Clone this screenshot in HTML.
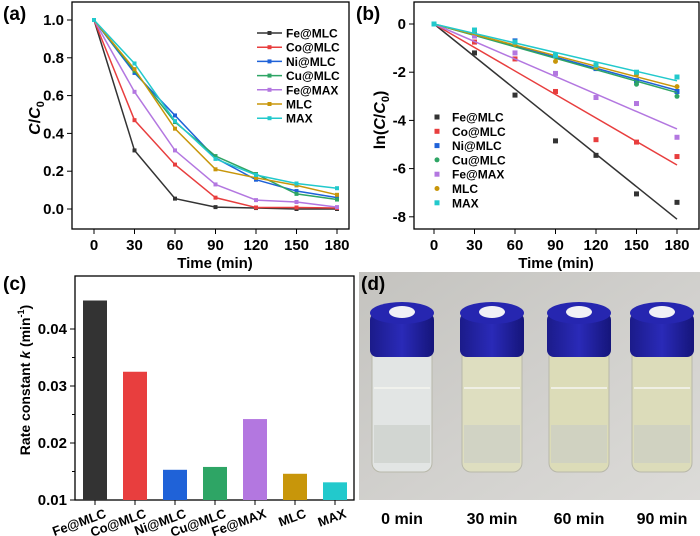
<!DOCTYPE html>
<html><head><meta charset="utf-8"><style>
body{margin:0;background:#fff;}
svg{display:block;font-family:"Liberation Sans",Arial,sans-serif;font-weight:bold;}
</style></head><body>
<svg id="fig" width="700" height="536" viewBox="0 0 700 536" xmlns="http://www.w3.org/2000/svg">
<defs>
<linearGradient id="bg" x1="0" y1="0" x2="1" y2="1"><stop offset="0" stop-color="#c4c3bf"/><stop offset="0.6" stop-color="#d3d2cf"/><stop offset="1" stop-color="#dcdbd8"/></linearGradient>
<linearGradient id="capg" x1="0" y1="0" x2="1" y2="0"><stop offset="0" stop-color="#1b1b8a"/><stop offset="0.5" stop-color="#2a2ab8"/><stop offset="1" stop-color="#15157a"/></linearGradient>
</defs>
<g id="pa"></g>
<g id="pb"></g>
<g id="pc"></g>
<g id="pd"></g>
</svg>
<script>
const NS="http://www.w3.org/2000/svg";
const names=["Fe@MLC","Co@MLC","Ni@MLC","Cu@MLC","Fe@MAX","MLC","MAX"];
const colors=["#333333","#e83e3e","#1f62d8","#2ea565","#b377e0","#c8960a","#22c9cc"];
const times=[0,30,60,90,120,150,180];
const cFe=[1,0.31,0.055,0.01,0.005,0.0,0.0];
const cCo=[1,0.47,0.235,0.06,0.008,0.008,0.005];
const cNi=[1,0.72,0.495,0.27,0.155,0.095,0.06];
const cCu=[1,0.73,0.46,0.28,0.185,0.08,0.05];
const cFeMAX=[1,0.62,0.31,0.13,0.047,0.037,0.01];
const cMLC=[1,0.74,0.425,0.21,0.165,0.125,0.075];
const cMAX=[1,0.77,0.465,0.265,0.18,0.135,0.11];
const lnFe=[0,-1.2,-2.95,-4.85,-5.45,-7.05,-7.4];
const lnCo=[0,-0.75,-1.45,-2.8,-4.8,-4.9,-5.5];
const lnNi=[0,-0.3,-0.7,-1.3,-1.85,-2.35,-2.8];
const lnCu=[0,-0.3,-0.75,-1.3,-1.7,-2.5,-3.0];
const lnFeMAX=[0,-0.5,-1.2,-2.05,-3.05,-3.3,-4.7];
const lnMLC=[0,-0.3,-0.85,-1.55,-1.8,-2.1,-2.6];
const lnMAX=[0,-0.25,-0.75,-1.3,-1.7,-2.0,-2.2];
const kValues=[0.045,0.0325,0.0153,0.0158,0.0242,0.0146,0.0131];
const xTicks=[0,30,60,90,120,150,180];
const aYTicks=[0,0.2,0.4,0.6,0.8,1.0];
const bYTicks=[0,-2,-4,-6,-8];
const cYTicks=[0.01,0.02,0.03,0.04];
const photoLabels=["0 min","30 min","60 min","90 min"];
const cSeries=[cFe,cCo,cNi,cCu,cFeMAX,cMLC,cMAX];
const lnSeries=[lnFe,lnCo,lnNi,lnCu,lnFeMAX,lnMLC,lnMAX];

function el(tag,attrs,parent,text){const e=document.createElementNS(NS,tag);for(const k in attrs)e.setAttribute(k,attrs[k]);if(text!==undefined)e.textContent=text;parent.appendChild(e);return e;}

// ---------- Panel A ----------
const pa=document.getElementById('pa');
const ax=t=>94+(t/180)*243, ay=v=>209-v*189;
let r=el('rect',{x:72,y:2,width:277,height:227,fill:'none',stroke:'#000','stroke-width':1.3},pa);

xTicks.forEach(t=>{el('line',{x1:ax(t),x2:ax(t),y1:229,y2:234,stroke:'#000'},pa);
 const tx=el('text',{x:ax(t),y:250,'font-size':15,'text-anchor':'middle'},pa,String(t));
 });
aYTicks.forEach(v=>{el('line',{x1:67,x2:72,y1:ay(v),y2:ay(v),stroke:'#000'},pa);
 const tx=el('text',{x:64,y:ay(v)+5,'font-size':15,'text-anchor':'end'},pa,v.toFixed(1));
 });
let t=el('text',{x:215,y:268,'font-size':15,'text-anchor':'middle'},pa,'Time (min)');

t=el('text',{transform:'translate(40,118) rotate(-90)','font-size':16,'text-anchor':'middle'},pa);

t.innerHTML='<tspan font-style="italic">C</tspan>/<tspan font-style="italic">C</tspan><tspan font-size="11" dy="4">0</tspan>';
t=el('text',{x:3,y:20,'font-size':19},pa,'(a)');

cSeries.forEach((s,i)=>{
 const pl=el('polyline',{points:s.map((v,j)=>ax(times[j])+','+ay(v)).join(' '),fill:'none',stroke:colors[i],'stroke-width':1.5},pa);
 
 s.forEach((v,j)=>{el('rect',{x:ax(times[j])-2,y:ay(v)-2,width:4,height:4,fill:colors[i]},pa);});
 const ly=33+i*14.2;
 el('line',{x1:257,x2:282,y1:ly,y2:ly,stroke:colors[i],'stroke-width':1.5},pa);
 el('rect',{x:267.5,y:ly-2,width:4,height:4,fill:colors[i]},pa);
 const lt=el('text',{x:286,y:ly+4.5,'font-size':12},pa,names[i]);
 
});

// ---------- Panel B ----------
const pb=document.getElementById('pb');
const bx=t=>434+(t/180)*243, by=v=>24-v*24.1;
r=el('rect',{x:414,y:2,width:285,height:227,fill:'none',stroke:'#000','stroke-width':1.3},pb);

xTicks.forEach(t=>{el('line',{x1:bx(t),x2:bx(t),y1:229,y2:234,stroke:'#000'},pb);
 const tx=el('text',{x:bx(t),y:250,'font-size':15,'text-anchor':'middle'},pb,String(t));
 });
bYTicks.forEach(v=>{el('line',{x1:409,x2:414,y1:by(v),y2:by(v),stroke:'#000'},pb);
 const tx=el('text',{x:406,y:by(v)+5,'font-size':15,'text-anchor':'end'},pb,String(v));
 });
t=el('text',{x:556,y:268,'font-size':15,'text-anchor':'middle'},pb,'Time (min)');

t=el('text',{transform:'translate(385,120) rotate(-90)','font-size':16,'text-anchor':'middle'},pb);

t.innerHTML='ln(<tspan font-style="italic">C</tspan>/<tspan font-style="italic">C</tspan><tspan font-size="11" dy="4">0</tspan><tspan dy="-4">)</tspan>';
t=el('text',{x:356,y:20,'font-size':19},pb,'(b)');

lnSeries.forEach((s,i)=>{
 const fl=el('line',{x1:bx(0),y1:by(0),x2:bx(180),y2:by(-kValues[i]*180),stroke:colors[i],'stroke-width':1.5},pb);
 
 s.forEach((v,j)=>{
  const m=i===3||i===5?el('circle',{cx:bx(times[j]),cy:by(v),r:2.5,fill:colors[i]},pb):el('rect',{x:bx(times[j])-2.5,y:by(v)-2.5,width:5,height:5,fill:colors[i]},pb);
  });
 const ly=117+i*14.3;
 if(i===3||i===5) el('circle',{cx:437,cy:ly,r:2.5,fill:colors[i]},pb); else el('rect',{x:434.5,y:ly-2.5,width:5,height:5,fill:colors[i]},pb);
 const lt=el('text',{x:452,y:ly+4.5,'font-size':12},pb,names[i]);
 
});

// ---------- Panel C ----------
const pc=document.getElementById('pc');
const cy=v=>500-(v-0.01)*5700, cx=i=>95+i*40;
r=el('rect',{x:75,y:276,width:279,height:224,fill:'none',stroke:'#000','stroke-width':1.3},pc);

cYTicks.forEach(v=>{el('line',{x1:70,x2:75,y1:cy(v),y2:cy(v),stroke:'#000'},pc);
 const tx=el('text',{x:67,y:cy(v)+5,'font-size':15,'text-anchor':'end'},pc,v.toFixed(2));
 });
[0.015,0.025,0.035].forEach(v=>el('line',{x1:72,x2:75,y1:cy(v),y2:cy(v),stroke:'#000'},pc));
kValues.forEach((k,i)=>{
 const b=el('rect',{x:cx(i)-12,y:cy(k),width:24,height:500-cy(k),fill:colors[i]},pc);
 
 el('line',{x1:cx(i),x2:cx(i),y1:500,y2:505,stroke:'#000'},pc);
 const tx=el('text',{transform:`translate(${cx(i)+12},${517}) rotate(-20)`,'font-size':13,'text-anchor':'end'},pc,names[i]);
 
});
t=el('text',{transform:'translate(30,380) rotate(-90)','font-size':14,'text-anchor':'middle'},pc);

t.innerHTML='Rate constant <tspan font-style="italic">k</tspan> (min<tspan font-size="9" dy="-6">-1</tspan><tspan dy="6">)</tspan>';
t=el('text',{x:3,y:290,'font-size':19},pc,'(c)');


// ---------- Panel D ----------
const pd=document.getElementById('pd');
r=el('rect',{x:359,y:272,width:341,height:228,fill:'url(#bg)'},pd);

const vialX=[402,492,579,662];
const liquid=["#e2e5e4","#dedec0","#dcdcb8","#dcdcba"];
vialX.forEach((x,i)=>{
 const g=el('g',{},pd);
 el('rect',{x:x-30,y:348,width:60,height:124,rx:9,fill:liquid[i],stroke:'#b8b8aa','stroke-width':1},g);
 el('rect',{x:x-28,y:425,width:56,height:38,fill:'#c8ccc6',opacity:0.6},g);
 el('line',{x1:x-28,x2:x+28,y1:388,y2:388,stroke:'#f4f4ee','stroke-width':2,opacity:0.8},g);
 el('rect',{x:x-32,y:313,width:64,height:44,rx:7,fill:'url(#capg)'},g);
 el('ellipse',{cx:x,cy:313,rx:32,ry:11,fill:'#2626b0'},g);
 el('ellipse',{cx:x,cy:312,rx:13,ry:6,fill:'#f2f2f6'},g);
 const lt=el('text',{x:x,y:524,'font-size':16,'text-anchor':'middle'},pd,photoLabels[i]);
 
});
t=el('text',{x:361,y:290,'font-size':19},pd,'(d)');

</script>
</body></html>
